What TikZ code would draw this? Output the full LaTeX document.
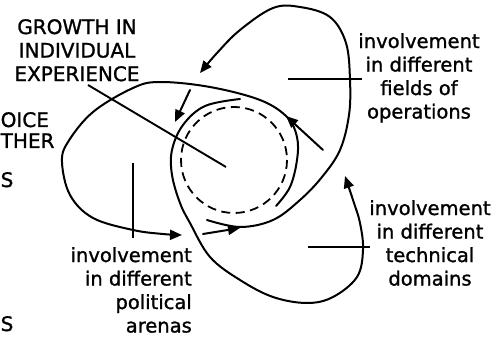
\documentclass[tikz,border=0pt]{standalone}
\usepackage{fontspec}
\newfontfamily\labelfont{DejaVu Sans}[FakeBold=1.2]
\usetikzlibrary{arrows.meta}
\tikzset{
  loopline/.style = {line width=2pt, line cap=round},
  flow/.style = {loopline, -{Triangle[length=12pt,width=10pt]}},
  core/.style = {line width=1.8pt, dash pattern=on 9pt off 5.5pt},
  leader/.style = {line width=1.9pt},
  capslabel/.style = {font=\labelfont\fontsize{20}{23.5}\selectfont, align=center, inner sep=0pt},
  arealabel/.style = {font=\labelfont\fontsize{19.5}{23.5}\selectfont, align=center, inner sep=0pt}
}
\begin{document}
\begin{tikzpicture}[x=1pt,y=-1pt]
  \useasboundingbox (0,0) rectangle (499,337);

  \node[capslabel, anchor=north]       (growth)    at (77,19)   {GROWTH IN\\INDIVIDUAL\\EXPERIENCE};
  \node[arealabel, anchor=north]       (fields)    at (419,33)  {involvement\\in different\\fields of\\operations};
  \node[arealabel, anchor=north]       (technical) at (430,200) {involvement\\in different\\technical\\domains};
  \node[arealabel, align=right, anchor=north east] (political) at (192,247) {involvement\\in different\\political\\arenas};

  % words at the left edge
  \node[capslabel, anchor=base west] (cutA) at (0.5,127) {OICE};
  \node[capslabel, anchor=base west] (cutB) at (0.5,148) {THER};
  \node[capslabel, anchor=base west] (cutC) at (0.5,187) {S};
  \node[capslabel, anchor=base west] (cutD) at (0.5,331) {S};

  % centre
  \coordinate (hub) at (234,160);
  \draw[core] (hub) circle[radius=53];

  % political arenas
  \draw[flow] plot[smooth, tension=0.6] coordinates {(276,206) (290,187) (297,160) (297,137)
    (287,117) (260,100) (210,87) (160,82) (133,88) (93,112) (68,142) (62,162) (70,195)
    (93,218) (133,230) (163,234) (182,235)};
  % fields of operations
  \draw[flow] plot[smooth, tension=0.6] coordinates {(207,220) (240,227) (273,220) (300,200)
    (322,177) (340,150) (349,115) (350,80) (346,43) (330,17) (300,7) (273,8) (240,30)
    (217,53) (200,73)};
  % technical domains
  \draw[flow] plot[smooth, tension=0.6] coordinates {(240,99) (205,106) (183,125) (172,150)
    (172,175) (180,203) (190,223) (210,257) (240,280) (273,297) (307,303) (333,297)
    (357,277) (363,250) (360,223) (353,200) (345,176)};

  % short arrows into the centre
  \coordinate (inF0) at (190,90);  \coordinate (inF1) at (175,122);
  \coordinate (inP0) at (203,234); \coordinate (inP1) at (240,228);
  \coordinate (inT0) at (323,150); \coordinate (inT1) at (286,116);
  \draw[flow] (inF0) -- (inF1);
  \draw[flow] (inP0) -- (inP1);
  \draw[flow] (inT0) -- (inT1);

  % label lines
  \coordinate (g0) at (88,85);   \coordinate (g1) at (226,167);
  \coordinate (p0) at (133,163); \coordinate (p1) at (133,238);
  \coordinate (f0) at (288,79);  \coordinate (f1) at (362,79);
  \coordinate (t0) at (308,247); \coordinate (t1) at (370,247);
  \draw[leader] (g0) -- (g1);
  \draw[leader] (p0) -- (p1);
  \draw[leader] (f0) -- (f1);
  \draw[leader] (t0) -- (t1);

\end{tikzpicture}
\end{document}
